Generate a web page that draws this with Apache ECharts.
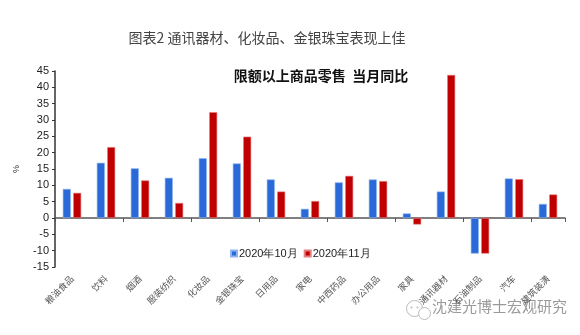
<!DOCTYPE html>
<html>
<head>
<meta charset="utf-8">
<script src="https://cdn.jsdelivr.net/npm/echarts@6/dist/echarts.min.js"></script>
<style>
  html, body { margin: 0; padding: 0; background: #fff; }
  #chart { width: 580px; height: 335px; }
</style>
</head>
<body>
<div id="chart"></div>
<script>
// 限额以上商品零售分类，当月同比（%）
const categories = ['粮油食品', '饮料', '烟酒', '服装纺织', '化妆品', '金银珠宝', '日用品',
  '家电', '中西药品', '办公用品', '家具', '通讯器材', '石油制品', '汽车', '建筑装潢'];
const seriesNames = ['2020年10月', '2020年11月'];
const oct2020 = [8.9, 16.9, 15.2, 12.3, 18.3, 16.7, 11.8, 2.8, 10.9, 11.8, 1.4, 8.1, -10.9, 12.1, 4.3];
const nov2020 = [7.7, 21.7, 11.5, 4.6, 32.4, 24.9, 8.1, 5.2, 12.9, 11.3, -2.0, 43.8, -10.9, 11.9, 7.2];
const yTicks = { min: -15, max: 45, interval: 5 };

const chart = echarts.init(document.getElementById('chart'), null, { renderer: 'canvas' });

const axisFont = 'Liberation Sans, Arial, sans-serif';
const cjkFont = '"Noto Sans CJK SC", sans-serif';

chart.setOption({
  animation: false,
  backgroundColor: '#ffffff',
  title: [
    {
      text: '图表2 通讯器材、化妆品、金银珠宝表现上佳',
      left: 262, top: 26, textAlign: 'center',
      textStyle: { fontFamily: cjkFont, fontSize: 14, fontWeight: 'normal', color: '#444' }
    },
    {
      text: '限额以上商品零售  当月同比',
      left: 316, top: 64, textAlign: 'center',
      textStyle: { fontFamily: cjkFont, fontSize: 14, fontWeight: 'bold', color: '#111' }
    }
  ],
  legend: {
    data: seriesNames,
    left: 225, top: 243,
    itemWidth: 6, itemHeight: 6, itemGap: 6,
    icon: 'rect',
    textStyle: { fontFamily: axisFont, fontSize: 11, color: '#222', padding: [0, 0, 0, -3] }
  },
  grid: { left: 55, right: 15, top: 71, bottom: 68, containLabel: false },
  xAxis: [
    {
      type: 'category',
      data: categories,
      axisLine: { onZero: true, lineStyle: { color: '#555', width: 1.5 } },
      axisTick: { show: true, inside: false, length: 4, lineStyle: { color: '#555' } },
      axisLabel: { show: false }
    },
    {
      type: 'category',
      data: categories,
      position: 'bottom',
      axisLine: { show: false },
      axisTick: { show: false },
      axisLabel: {
        rotate: 45, margin: 10, interval: 0,
        fontFamily: cjkFont, fontSize: 9, color: '#555'
      }
    }
  ],
  yAxis: {
    type: 'value',
    min: yTicks.min, max: yTicks.max, interval: yTicks.interval,
    name: '%',
    nameLocation: 'middle',
    nameGap: 34,
    nameRotate: 90,
    nameTextStyle: { fontFamily: axisFont, fontSize: 9, color: '#333' },
    axisLine: { show: true, lineStyle: { color: '#333', width: 1.5 } },
    axisTick: { show: true, inside: false, length: 3, lineStyle: { color: '#333' } },
    splitLine: { show: false },
    axisLabel: { fontFamily: axisFont, fontSize: 11, color: '#222', margin: 6 }
  },
  series: [
    {
      name: seriesNames[0], type: 'bar', xAxisIndex: 0,
      data: oct2020, barWidth: 8, barGap: '30%',
      itemStyle: { color: '#2a6ad8', borderColor: '#8fb3f0', borderWidth: 0.6 }
    },
    {
      name: seriesNames[1], type: 'bar', xAxisIndex: 0,
      data: nov2020, barWidth: 8,
      itemStyle: { color: '#c00000', borderColor: '#e58080', borderWidth: 0.6 }
    }
  ],
  graphic: [
    {
      type: 'group', left: 404, top: 298,
      children: [
        { type: 'circle', shape: { cx: 9, cy: 8, r: 8 }, style: { fill: 'none', stroke: '#bbb', lineWidth: 1 } },
        { type: 'circle', shape: { cx: 19, cy: 13, r: 6 }, style: { fill: '#fff', stroke: '#bbb', lineWidth: 1 } },
        { type: 'circle', shape: { cx: 6, cy: 7, r: 1 }, style: { fill: '#bbb' } },
        { type: 'circle', shape: { cx: 12, cy: 7, r: 1 }, style: { fill: '#bbb' } }
      ]
    },
    {
      type: 'text', left: 432, top: 299,
      style: { text: '沈建光博士宏观研究', fontFamily: cjkFont, fontSize: 15, fill: '#9a9a9a' }
    }
  ]
});
</script>
</body>
</html>
